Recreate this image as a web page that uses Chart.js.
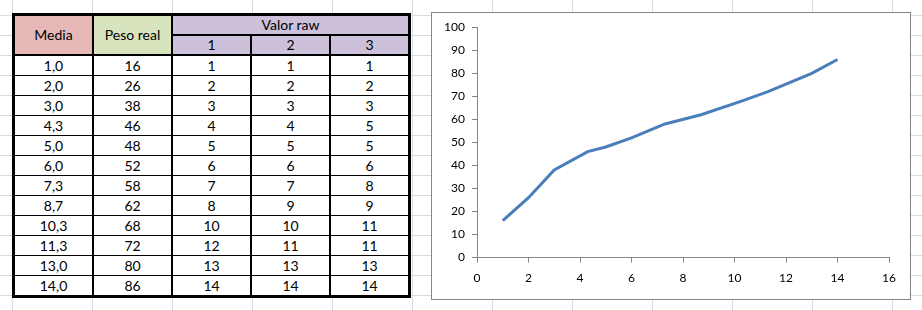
<!DOCTYPE html>
<html>
<head>
<meta charset="utf-8">
<script src="https://cdn.jsdelivr.net/npm/chart.js@4"></script>
<style>
  html, body { margin: 0; padding: 0; }
  body {
    width: 922px; height: 310px; overflow: hidden; position: relative;
    background-color: #fff;
    background-image: linear-gradient(to right, #d6dbe3 1px, transparent 1px),
                      linear-gradient(to bottom, #d6dbe3 1px, transparent 1px);
    background-size: 80px 20px;
    background-position: 12px 15px;
    font-family: 'Lato', sans-serif;
  }
  #tabela {
    position: absolute; left: 12px; top: 13px;
    border-collapse: collapse; border: 3px solid #000;
    font-size: 14px; background: #fff; table-layout: fixed;
  }
  #tabela td, #tabela th {
    width: 77px; padding: 0; text-align: center; font-weight: normal;
    border-left: 2px solid #000; border-right: 2px solid #000;
    border-top: 1px solid #000; border-bottom: 1px solid #000;
    height: 19px; line-height: 19px;
  }
  #tabela th { height: 18px; line-height: 18px; }
  #tabela th.media { background: #e6b9b8; }
  #tabela th.peso { background: #d7e4bd; }
  #tabela th.valor { background: #ccc0da; border-bottom: 2px solid #000; }
  #tabela tr.h2 th { border-bottom: 2px solid #000; }
  #tabela th.media, #tabela th.peso { border-bottom: 2px solid #000; }
  #box {
    position: absolute; left: 431px; top: 12px; width: 478px; height: 286px;
    border: 1px solid #868686; background: #fff;
  }
</style>
</head>
<body>
<table id="tabela">
  <thead>
    <tr><th rowspan="2" class="media">Media</th><th rowspan="2" class="peso">Peso real</th><th colspan="3" class="valor">Valor raw</th></tr>
    <tr class="h2"><th class="valor">1</th><th class="valor">2</th><th class="valor">3</th></tr>
  </thead>
  <tbody id="corpo"></tbody>
</table>
<div id="box"><canvas id="grafico"></canvas></div>
<script>
var media = [1.0, 2.0, 3.0, 4.3, 5.0, 6.0, 7.3, 8.7, 10.3, 11.3, 13.0, 14.0];
var pesoReal = [16, 26, 38, 46, 48, 52, 58, 62, 68, 72, 80, 86];
var raw1 = [1, 2, 3, 4, 5, 6, 7, 8, 10, 12, 13, 14];
var raw2 = [1, 2, 3, 4, 5, 6, 7, 9, 10, 11, 13, 14];
var raw3 = [1, 2, 3, 5, 5, 6, 8, 9, 11, 11, 13, 14];

// monta a tabela
var corpo = document.getElementById('corpo');
for (var i = 0; i < media.length; i++) {
    var tr = document.createElement('tr');
    var vals = [media[i].toFixed(1).replace('.', ','), pesoReal[i], raw1[i], raw2[i], raw3[i]];
    vals.forEach(function (v) {
        var td = document.createElement('td');
        td.textContent = v;
        tr.appendChild(td);
    });
    corpo.appendChild(tr);
}

var pontos = media.map(function (m, i) { return { x: m, y: pesoReal[i] }; });

Chart.defaults.font.family = 'Lato';
Chart.defaults.font.size = 12;
Chart.defaults.color = '#000';

var grafico = new Chart(document.getElementById('grafico'), {
    type: 'scatter',
    data: {
        datasets: [{
            label: 'Peso real',
            data: pontos,
            showLine: true,
            fill: false,
            tension: 0,
            borderColor: '#4a7ebb',
            backgroundColor: '#4a7ebb',
            borderWidth: 3,
            pointRadius: 0
        }]
    },
    options: {
        responsive: true,
        maintainAspectRatio: false,
        animation: false,
        layout: { padding: { left: 0, right: 21, top: 14, bottom: 6 } },
        plugins: { legend: { display: false }, tooltip: { enabled: false } },
        scales: {
            x: {
                type: 'linear',
                min: 0, max: 16,
                ticks: { stepSize: 2, padding: 8, maxRotation: 0 },
                grid: { drawOnChartArea: false, drawTicks: true, tickLength: 5, color: '#868686' },
                border: { color: '#868686' }
            },
            y: {
                min: 0, max: 100,
                ticks: { stepSize: 10, padding: 7 },
                grid: { drawOnChartArea: false, drawTicks: true, tickLength: 5, color: '#868686' },
                border: { color: '#868686' },
                afterFit: function (s) { s.width = 45; }
            }
        }
    }
});
</script>
</body>
</html>
